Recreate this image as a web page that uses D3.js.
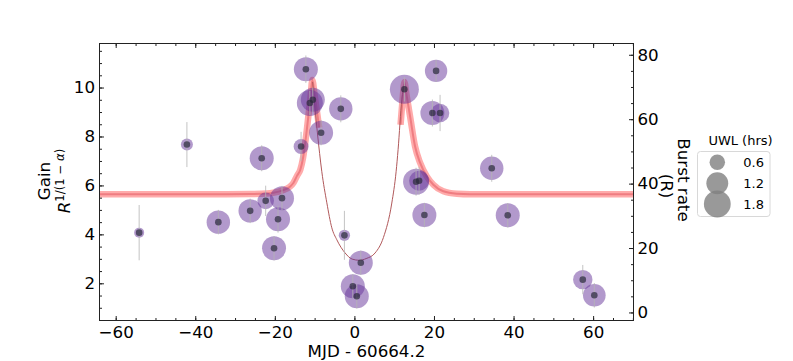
<!DOCTYPE html>
<html>
<head>
<meta charset="utf-8">
<script src="https://cdn.jsdelivr.net/npm/d3@7"></script>
<style>
  body { margin: 0; background: #fff; }
  text { font-family: "DejaVu Sans", sans-serif; fill: #000; }
</style>
</head>
<body>
<div id="main"></div>
<script>
// data
let mjd = [-54.1, -42.1, -34.2, -26.2, -23.3, -22.3, -20.2, -19.2, -18.2, -13.4,
    -12.2, -11.2, -10.45, -8.37, -3.42, -2.51, -0.40, 0.60, 1.61, 12.56,
    15.5, 16.26, 17.59, 19.6, 20.53, 21.53, 34.52, 38.54, 57.4, 60.3]
let gain = [4.07, 7.67, 4.5, 4.96, 7.11, 5.37, 3.43, 4.62, 5.48, 7.59,
    10.75, 9.37, 9.5, 8.15, 9.13, 3.96, 1.88, 1.47, 2.84, 9.93,
    6.15, 6.19, 4.79, 8.96, 10.68, 8.96, 6.7, 4.78, 2.15, 1.51]
let gainErr = [1.13, 0.92, 0.5, 0.5, 0.53, 0.62, 0.5, 0.55, 0.5, 0.6,
    0.56, 0.5, 0.5, 0.51, 0.55, 1.0, 0.5, 0.5, 0.5, 0.5,
    0.57, 0.57, 0.5, 0.55, 0.45, 0.74, 0.55, 0.5, 0.6, 0.5]
let uwl = [0.25, 0.36, 1.37, 1.37, 1.44, 0.69, 1.44, 1.44, 1.44, 0.56,
    1.44, 1.69, 1.44, 1.44, 1.37, 0.32, 1.44, 1.44, 1.44, 2.1,
    1.69, 1.0, 1.44, 1.44, 1.25, 0.86, 1.37, 1.44, 0.94, 1.28]

// model band (gain units), left and right branches
let bandLeftX = [-64.07, -35, -26, -22, -20.4, -18, -16.2, -15.3, -14.4, -13.6, -12.9, -11.96, -11.4, -11.0, -10.58, -10.0, -9.37, -8.87]
let bandLeftY = [5.64, 5.64, 5.65, 5.67, 5.7, 5.8, 5.95, 6.11, 6.4, 6.64, 7.13, 8.27, 9.09, 9.66, 10.31, 9.7, 8.97, 8.36]
let bandRightX = [11.6, 12.1, 12.56, 13.1, 14.0, 15.25, 16.5, 18.19, 19.85, 22.36, 25.73, 29.1, 70.15]
let bandRightY = [8.48, 9.5, 10.23, 9.7, 8.82, 7.59, 6.93, 6.37, 6.03, 5.76, 5.66, 5.64, 5.64]

// thin curve through the dip
let dipX = [-10.5, -9.3, -8.19, -6.93, -5.68, -4.42, -2.34, -0.58, 1.26, 2.94, 5.2, 7.29, 9.4, 10.48, 10.98, 11.91, 12.56]
let dipY = [10.23, 8.15, 6.56, 5.29, 4.27, 3.78, 3.24, 2.99, 2.94, 3.01, 3.24, 3.87, 5.28, 6.56, 7.46, 9.5, 10.15]

let xTicks = [-60, -40, -20, 0, 20, 40, 60]
let gainTicks = [2, 4, 6, 8, 10]
let rateTicks = [0, 20, 40, 60, 80]
let legendUwl = [0.6, 1.2, 1.8]

let W = 793, H = 361
let plot = {left: 99.5, right: 633.5, top: 43.5, bottom: 320.5}

let svg = d3.select("#main").append("svg")
    .attr("width", W)
    .attr("height", H)

svg.append("rect").attr("width", W).attr("height", H).attr("fill", "#fff")

let x = d3.scaleLinear().domain([-64.07, 70.15]).range([plot.left, plot.right])
let y = d3.scaleLinear().domain([0.48, 11.8]).range([plot.bottom, plot.top])
let yR = d3.scaleLinear().domain([-2.5, 83.5]).range([plot.bottom, plot.top])
let rad = d => 10 * Math.sqrt(d)

let fs = "16.7px"

// curves
let line = d3.line().x(d => x(d[0])).y(d => y(d[1])).curve(d3.curveMonotoneX)
let bandL = bandLeftX.map((v, i) => [v, bandLeftY[i]])
let bandR = bandRightX.map((v, i) => [v, bandRightY[i]])
let dip = dipX.map((v, i) => [v, dipY[i]])

let gClip = svg.append("defs").append("clipPath").attr("id", "clip")
    .append("rect").attr("x", plot.left).attr("y", plot.top)
    .attr("width", plot.right - plot.left).attr("height", plot.bottom - plot.top)

let g = svg.append("g").attr("clip-path", "url(#clip)")

;[bandL, bandR].forEach(b => {
    g.append("path").attr("d", line(b)).attr("fill", "none")
        .attr("stroke", "#ff8f8f").attr("stroke-opacity", 0.75).attr("stroke-width", 6.5)
        .attr("stroke-linejoin", "round")
    g.append("path").attr("d", line(b)).attr("fill", "none")
        .attr("stroke", "#e0505a").attr("stroke-opacity", 0.5).attr("stroke-width", 2)
})
g.append("path").attr("d", line(dip)).attr("fill", "none")
    .attr("stroke", "#b0585a").attr("stroke-width", 1)

// points
let pts = mjd.map((v, i) => ({x: v, y: gain[i], e: gainErr[i], u: uwl[i]}))

g.selectAll("circle.uwl").data(pts).enter().append("circle")
    .attr("class", "uwl")
    .attr("cx", d => x(d.x)).attr("cy", d => y(d.y)).attr("r", d => rad(d.u))
    .attr("fill", "#663399").attr("fill-opacity", 0.5)

g.selectAll("line.err").data(pts).enter().append("line")
    .attr("class", "err")
    .attr("x1", d => x(d.x)).attr("x2", d => x(d.x))
    .attr("y1", d => y(d.y - d.e)).attr("y2", d => y(d.y + d.e))
    .attr("stroke", "#b4b4b4").attr("stroke-opacity", 0.8).attr("stroke-width", 1)

g.selectAll("circle.dot").data(pts).enter().append("circle")
    .attr("class", "dot")
    .attr("cx", d => x(d.x)).attr("cy", d => y(d.y)).attr("r", 3.3)
    .attr("fill", "#2a2a3a").attr("fill-opacity", 0.7)

// axes
function styleAxis(sel) {
    sel.select(".domain").remove()
    sel.selectAll("line").attr("stroke", "#222")
    sel.selectAll("text").style("font-size", fs).style("font-family", "DejaVu Sans").attr("fill", "#000")
}

svg.append("g").attr("transform", "translate(0," + plot.bottom + ")")
    .call(d3.axisBottom(x).tickValues(d3.range(-60, 71, 5)).tickSize(-2.5).tickFormat(""))
    .call(styleAxis)
svg.append("g").attr("transform", "translate(0," + plot.bottom + ")")
    .call(d3.axisBottom(x).tickValues(xTicks).tickSize(-4.5).tickPadding(5.5))
    .call(styleAxis)

svg.append("g").attr("transform", "translate(0," + plot.top + ")")
    .call(d3.axisTop(x).tickValues(d3.range(-60, 71, 5)).tickSize(-2.5).tickFormat(""))
    .call(styleAxis)
svg.append("g").attr("transform", "translate(0," + plot.top + ")")
    .call(d3.axisTop(x).tickValues(xTicks).tickSize(-4.5).tickFormat(""))
    .call(styleAxis)

svg.append("g").attr("transform", "translate(" + plot.left + ",0)")
    .call(d3.axisLeft(y).tickValues(d3.range(0.5, 11.8, 0.5)).tickSize(-2.5).tickFormat(""))
    .call(styleAxis)
svg.append("g").attr("transform", "translate(" + plot.left + ",0)")
    .call(d3.axisLeft(y).tickValues(gainTicks).tickSize(-4.5).tickPadding(4.5))
    .call(styleAxis)

svg.append("g").attr("transform", "translate(" + plot.right + ",0)")
    .call(d3.axisRight(yR).tickValues(d3.range(0, 84, 5)).tickSize(-2.5).tickFormat(""))
    .call(styleAxis)
svg.append("g").attr("transform", "translate(" + plot.right + ",0)")
    .call(d3.axisRight(yR).tickValues(rateTicks).tickSize(-4.5).tickPadding(4))
    .call(styleAxis)

// frame
svg.append("rect")
    .attr("x", plot.left).attr("y", plot.top)
    .attr("width", plot.right - plot.left).attr("height", plot.bottom - plot.top)
    .attr("fill", "none").attr("stroke", "#222").attr("stroke-width", 1)

// axis labels
svg.append("text")
    .attr("x", (plot.left + plot.right) / 2).attr("y", 356.5)
    .attr("text-anchor", "middle").style("font-size", fs)
    .text("MJD - 60664.2")

svg.append("text")
    .attr("transform", "translate(50,181) rotate(-90)")
    .attr("text-anchor", "middle").style("font-size", fs)
    .text("Gain")

let rl = svg.append("text")
    .attr("transform", "translate(70,181) rotate(-90)")
    .attr("text-anchor", "middle").style("font-size", fs)
rl.append("tspan").style("font-style", "italic").text("R")
let sup = rl.append("tspan").attr("dy", -6.5).style("font-size", "11.7px")
sup.append("tspan").text("1/(1 − ")
sup.append("tspan").style("font-style", "italic").text("α")
sup.append("tspan").text(")")

svg.append("text")
    .attr("transform", "translate(678,180) rotate(90)")
    .attr("text-anchor", "middle").style("font-size", fs)
    .text("Burst rate")
svg.append("text")
    .attr("transform", "translate(660.5,186) rotate(90)")
    .attr("text-anchor", "middle").style("font-size", fs)
    .text("(R)")

// legend
let leg = svg.append("g")
leg.append("text")
    .attr("x", 740.5).attr("y", 145)
    .attr("text-anchor", "middle").style("font-size", "13px")
    .text("UWL (hrs)")
leg.append("rect")
    .attr("x", 697.5).attr("y", 151.5).attr("width", 72.5).attr("height", 65).attr("rx", 3)
    .attr("fill", "#fff").attr("fill-opacity", 0.8)
    .attr("stroke", "#d8d8d8").attr("stroke-width", 1)

let legY = [162.3, 183.3, 204]
leg.selectAll("circle").data(legendUwl).enter().append("circle")
    .attr("cx", 717.3).attr("cy", (d, i) => legY[i]).attr("r", d => rad(d))
    .attr("fill", "#808080").attr("fill-opacity", 0.8)
leg.selectAll("text.lab").data(legendUwl).enter().append("text")
    .attr("class", "lab")
    .attr("x", 743.3).attr("y", (d, i) => legY[i] + 5)
    .style("font-size", "13px")
    .text(d => d.toFixed(1))
</script>
</body>
</html>
